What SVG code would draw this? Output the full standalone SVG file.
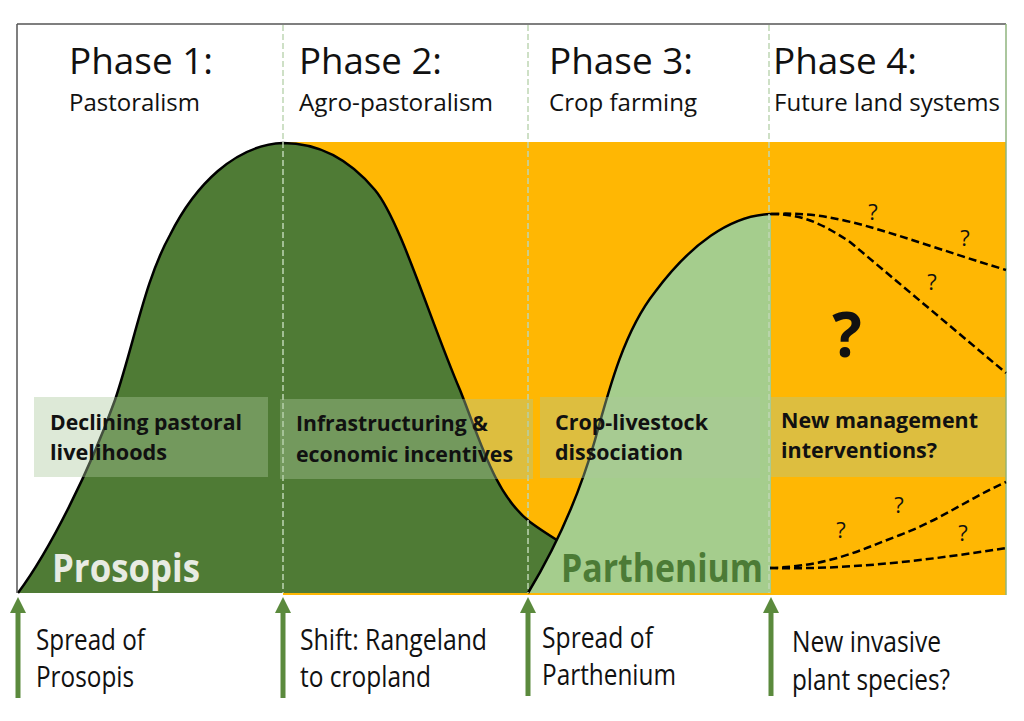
<svg xmlns="http://www.w3.org/2000/svg" width="1024" height="721" viewBox="0 0 1024 721">
<defs>
<style>
.title{font-family:"Open Sans","Liberation Sans",sans-serif;font-size:36px;fill:#111}
.sub{font-family:"Open Sans","Liberation Sans",sans-serif;font-size:24px;fill:#111}
.lbl{font-family:"Open Sans","Liberation Sans",sans-serif;font-size:22px;font-weight:bold;fill:#111}
.big{font-family:"Open Sans","Liberation Sans",sans-serif;font-size:40px;font-weight:bold}
.bot{font-family:"Open Sans","Liberation Sans",sans-serif;font-size:29px;fill:#111}
.q{font-family:"Open Sans","Liberation Sans",sans-serif;font-size:22px;fill:#111}
.box{fill:#a9c99c;fill-opacity:0.4}
.curve{fill:none;stroke:#000;stroke-width:2.5}
.fut{fill:none;stroke:#000;stroke-width:2.5;stroke-dasharray:8 4}
.vdash{stroke:#bfd6b4;stroke-width:1.5;stroke-dasharray:6 3}
.arrow{stroke:#5b8a3d;stroke-width:5;marker-end:url(#ah)}
</style>
<marker id="ah" markerUnits="userSpaceOnUse" markerWidth="16" markerHeight="16" viewBox="0 0 16 16" refX="2" refY="8" orient="auto">
<path d="M0,0 L16,8 L0,16 Z" fill="#5b8a3d"/>
</marker>
</defs>
<rect width="1024" height="721" fill="#fff"/>

<g id="background">
<rect x="283" y="142" width="723" height="453" fill="#ffb703"/>
<path d="M18,593 C50,550 90,470 115,400 C135,340 145,280 170,235 C195,185 235,145 283,143 C320,143 350,160 375,190 C400,220 430,320 460,390 C480,440 495,495 530,522 C550,537 580,555 640,590 L640,593 Z" fill="#4f7b35"/>
<path class="curve" d="M18,593 C50,550 90,470 115,400 C135,340 145,280 170,235 C195,185 235,145 283,143 C320,143 350,160 375,190 C400,220 430,320 460,390 C480,440 495,495 530,522 C550,537 580,555 640,590"/>
<path d="M528,593 C548,560 575,510 595,440 C610,385 625,330 655,292 C690,245 730,215 771,214 L771,593 Z" fill="#a5cd8d"/>
<path class="curve" d="M528,593 C548,560 575,510 595,440 C610,385 625,330 655,292 C690,245 730,215 771,214"/>
</g>

<g id="phase-dividers">
<line class="vdash" x1="283" y1="25" x2="283" y2="593"/>
<line class="vdash" x1="528" y1="25" x2="528" y2="593"/>
<line class="vdash" x1="769" y1="25" x2="769" y2="593"/>
</g>

<g id="frame">
<line x1="17" y1="24" x2="1006" y2="24" stroke="#555" stroke-width="1.5"/>
<line x1="17" y1="24" x2="17" y2="593" stroke="#555" stroke-width="1.5"/>
<line x1="1006" y1="24" x2="1006" y2="595" stroke="#8fb47e" stroke-width="1.5"/>
</g>

<g id="phase1">
<text class="title" x="69" y="74" textLength="144" lengthAdjust="spacingAndGlyphs">Phase 1:</text>
<text class="sub" x="69" y="111" textLength="131" lengthAdjust="spacingAndGlyphs">Pastoralism</text>
</g>
<g id="phase2">
<text class="title" x="299" y="74" textLength="143" lengthAdjust="spacingAndGlyphs">Phase 2:</text>
<text class="sub" x="299" y="111" textLength="194" lengthAdjust="spacingAndGlyphs">Agro-pastoralism</text>
</g>
<g id="phase3">
<text class="title" x="549" y="74" textLength="144" lengthAdjust="spacingAndGlyphs">Phase 3:</text>
<text class="sub" x="549" y="111" textLength="148" lengthAdjust="spacingAndGlyphs">Crop farming</text>
</g>
<g id="phase4">
<text class="title" x="773" y="74" textLength="144" lengthAdjust="spacingAndGlyphs">Phase 4:</text>
<text class="sub" x="774" y="111" textLength="226" lengthAdjust="spacingAndGlyphs">Future land systems</text>
</g>

<g id="driver1">
<rect class="box" x="34" y="397" width="234" height="80"/>
<text class="lbl" x="50" y="430" textLength="192" lengthAdjust="spacingAndGlyphs">Declining pastoral</text>
<text class="lbl" x="50" y="460" textLength="117" lengthAdjust="spacingAndGlyphs">livelihoods</text>
</g>
<g id="driver2">
<rect class="box" x="280" y="399" width="253" height="80"/>
<text class="lbl" x="296" y="431" textLength="192" lengthAdjust="spacingAndGlyphs">Infrastructuring &amp;</text>
<text class="lbl" x="296" y="462" textLength="217" lengthAdjust="spacingAndGlyphs">economic incentives</text>
</g>
<g id="driver3">
<rect class="box" x="540" y="397" width="220" height="81"/>
<text class="lbl" x="555" y="430" textLength="153" lengthAdjust="spacingAndGlyphs">Crop-livestock</text>
<text class="lbl" x="555" y="460" textLength="128" lengthAdjust="spacingAndGlyphs">dissociation</text>
</g>
<g id="driver4">
<rect class="box" x="770" y="397" width="235" height="80"/>
<text class="lbl" x="781" y="428" textLength="197" lengthAdjust="spacingAndGlyphs">New management</text>
<text class="lbl" x="781" y="458" textLength="156" lengthAdjust="spacingAndGlyphs">interventions?</text>
</g>

<g id="species-labels">
<text class="big" x="52" y="582" fill="#e8ebe3" textLength="148" lengthAdjust="spacingAndGlyphs">Prosopis</text>
<text class="big" x="561" y="582" fill="#4c7b36" textLength="202" lengthAdjust="spacingAndGlyphs">Parthenium</text>
</g>

<g id="future-trajectories">
<path class="fut" d="M771,214 C810,212 840,218 880,230 S960,256 1006,270"/>
<path class="fut" d="M771,214 C800,214 820,222 850,242 L1006,373"/>
<path class="fut" d="M770,568 C830,566 860,550 900,535 S970,498 1006,482"/>
<path class="fut" d="M770,568 C850,570 930,560 1006,548"/>
<text class="q" x="873" y="220" text-anchor="middle">?</text>
<text class="q" x="965" y="246" text-anchor="middle">?</text>
<text class="q" x="932" y="290" text-anchor="middle">?</text>
<text x="847" y="357" text-anchor="middle" font-family="Open Sans, Liberation Sans, sans-serif" font-size="62" font-weight="bold" fill="#111">?</text>
<text class="q" x="841" y="538" text-anchor="middle">?</text>
<text class="q" x="899" y="513" text-anchor="middle">?</text>
<text class="q" x="963" y="541" text-anchor="middle">?</text>
</g>

<g id="connectors">
<line class="arrow" x1="18" y1="698" x2="18" y2="611"/>
<line class="arrow" x1="283" y1="698" x2="283" y2="611"/>
<line class="arrow" x1="528" y1="696" x2="528" y2="611"/>
<line class="arrow" x1="771" y1="696" x2="771" y2="611"/>
</g>

<g id="event1">
<text class="bot" x="36" y="650" textLength="109" lengthAdjust="spacingAndGlyphs">Spread of</text>
<text class="bot" x="36" y="687" textLength="98" lengthAdjust="spacingAndGlyphs">Prosopis</text>
</g>
<g id="event2">
<text class="bot" x="300" y="650" textLength="187" lengthAdjust="spacingAndGlyphs">Shift: Rangeland</text>
<text class="bot" x="300" y="687" textLength="131" lengthAdjust="spacingAndGlyphs">to cropland</text>
</g>
<g id="event3">
<text class="bot" x="542" y="648" textLength="111" lengthAdjust="spacingAndGlyphs">Spread of</text>
<text class="bot" x="542" y="685" textLength="134" lengthAdjust="spacingAndGlyphs">Parthenium</text>
</g>
<g id="event4">
<text class="bot" x="792" y="652" textLength="149" lengthAdjust="spacingAndGlyphs">New invasive</text>
<text class="bot" x="792" y="690" textLength="158" lengthAdjust="spacingAndGlyphs">plant species?</text>
</g>
</svg>
